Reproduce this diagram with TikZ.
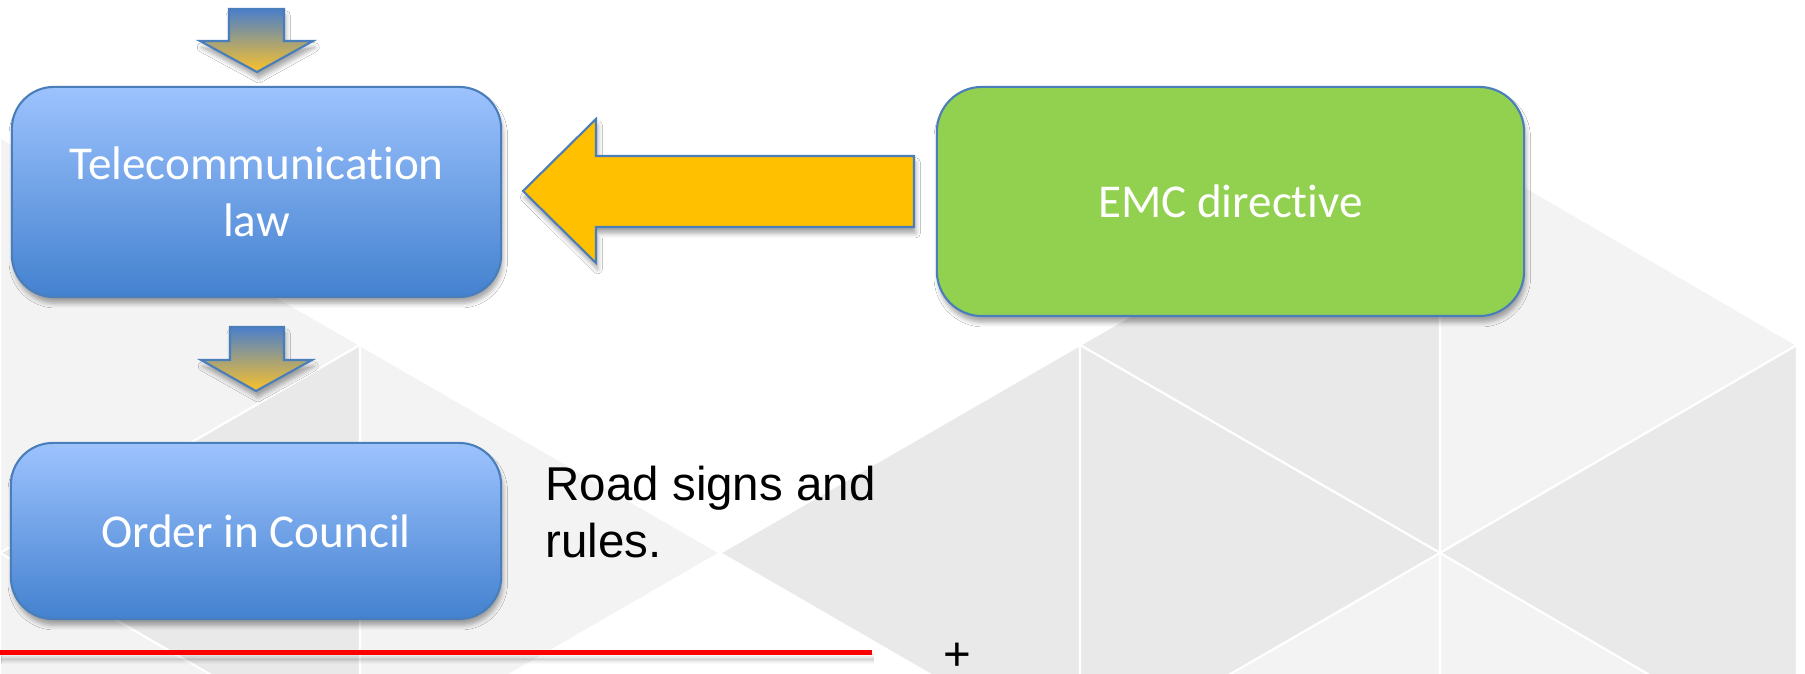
\documentclass[tikz,border=0pt]{standalone}
\usepackage{fontspec}
\setmainfont{Carlito}[Ligatures=CommonOff]
\newfontfamily\roadfont{Liberation Sans}
\usetikzlibrary{shadows.blur}

\definecolor{bgLight}{HTML}{F3F3F3}
\definecolor{bgMid}{HTML}{E9E9E9}
\definecolor{edgeBlue}{HTML}{4A7EBB}
\definecolor{lawTop}{HTML}{9DC3FE}
\definecolor{lawBot}{HTML}{4381CF}
\definecolor{emcGreen}{HTML}{92D050}
\definecolor{pushGold}{HTML}{FFC000}
\definecolor{dropBlue}{HTML}{4A7FCB}
\definecolor{dropGold}{HTML}{FBC22A}

\begin{document}
\begin{tikzpicture}[x=0.01cm,y=-0.01cm,
    softshadow/.style={blur shadow={shadow xshift=0.5pt, shadow yshift=-1.8pt, shadow blur radius=1.3pt, shadow opacity=35}},
    lawbox/.style={draw=edgeBlue, line width=0.6pt, rounded corners=0.42cm, top color=lawTop, bottom color=lawBot, text=white, align=center, font=\fontsize{13.4}{16.2}\selectfont, softshadow},
    emcbox/.style={draw=edgeBlue, line width=0.6pt, rounded corners=0.45cm, fill=emcGreen, text=white, font=\fontsize{13.4}{16.2}\selectfont, softshadow},
    droparrow/.style={draw=edgeBlue, line width=0.6pt, top color=dropBlue, bottom color=dropGold, softshadow},
    pusharrow/.style={draw=edgeBlue, line width=0.6pt, fill=pushGold, softshadow},
    roadtext/.style={inner sep=0pt, align=left, font=\roadfont\fontsize{13.5}{16.2}\selectfont},
    lighttri/.style={fill=bgLight, draw=white, line width=0.6pt},
    midtri/.style={fill=bgMid, draw=white, line width=0.6pt}]
    \useasboundingbox (0,0) rectangle (1805,674);
    \fill[white] (0,0) rectangle (1805,674);
    % background cubes
    \begin{scope}
    \clip (0,0) rectangle (1805,674);
    \filldraw[lighttri] (0,137) -- (360,345) -- (0,553) -- cycle;
    \filldraw[midtri] (360,345) -- (0,553) -- (360,761) -- cycle;
    \filldraw[lighttri] (0,553) -- (360,761) -- (0,969) -- cycle;
    \filldraw[lighttri] (360,345) -- (720,553) -- (360,761) -- cycle;
    \filldraw[midtri] (720,553) -- (1080,345) -- (1080,761) -- cycle;
    \filldraw[midtri] (1080,345) -- (1440,137) -- (1440,553) -- cycle;
    \filldraw[midtri] (1080,345) -- (1440,553) -- (1080,761) -- cycle;
    \filldraw[lighttri] (1440,553) -- (1080,761) -- (1440,969) -- cycle;
    \filldraw[lighttri] (1440,137) -- (1797,345) -- (1440,553) -- cycle;
    \filldraw[midtri] (1797,345) -- (1440,553) -- (1797,761) -- cycle;
    \filldraw[lighttri] (1440,553) -- (1797,761) -- (1440,969) -- cycle;
    \end{scope}

    \node[lawbox, minimum width=4.89cm, minimum height=2.10cm] (law) at (256.5,192) {Telecommunication\\law};
    \node[lawbox, minimum width=4.90cm, minimum height=1.76cm] (council) at (256,531) {Order in Council};
    \node[emcbox, minimum width=5.87cm, minimum height=2.29cm] (emc) at (1230.5,201.5) {EMC directive};
    \node[roadtext, anchor=north west] (road) at (545,465) {Road signs and\\rules.};

    % block arrows
    \filldraw[droparrow] (229,9) -- (284,9) -- (284,41) -- (313,41) -- (257,72) -- (200,41) -- (229,41) -- cycle;
    \filldraw[droparrow] (230,327) -- (284,327) -- (284,360) -- (312,360) -- (256,391) -- (201,360) -- (230,360) -- cycle;
    \filldraw[pusharrow] (914,156) -- (596,156) -- (596,119) -- (523,191) -- (596,263) -- (596,227) -- (914,227) -- cycle;

    \draw[red, line width=0.05cm, softshadow] (0,653) -- (872,653);
    \node[roadtext] (plus) at (957,657) {+};
\end{tikzpicture}
\end{document}
